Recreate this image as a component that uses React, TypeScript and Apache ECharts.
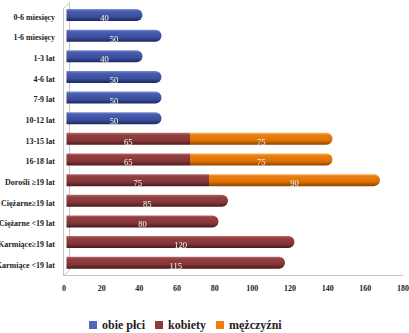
import React, { useEffect, useRef } from "react";
import * as echarts from "echarts";

const categories = [
  "0-6 miesięcy",
  "1-6 miesięcy",
  "1-3 lat",
  "4-6 lat",
  "7-9 lat",
  "10-12 lat",
  "13-15 lat",
  "16-18 lat",
  "Dorośli ≥19 lat",
  "Ciężarne≥19 lat",
  "Ciężarne <19 lat",
  "Karmiące≥19 lat",
  "Karmiące <19 lat",
];

const obiePlci = [40, 50, 40, 50, 50, 50, null, null, null, null, null, null, null];
const kobiety = [null, null, null, null, null, null, 65, 65, 75, 85, 80, 120, 115];
const mezczyzni = [null, null, null, null, null, null, 75, 75, 90, null, null, null, null];

const xTicks = { min: 0, max: 180, interval: 20 };

const SERIF = "'Liberation Serif', 'DejaVu Serif', serif";

const cyl = (stops: string[]) =>
  new echarts.graphic.LinearGradient(0, 0, 0, 1, [
    { offset: 0, color: stops[0] },
    { offset: 0.18, color: stops[1] },
    { offset: 0.65, color: stops[2] },
    { offset: 1, color: stops[3] },
  ]);

const BLUE = ["#7d8fd6", "#4a5eb0", "#3b4d9c", "#1d285e"];
const RED = ["#b86a6e", "#93403f", "#843538", "#4a1a1c"];
const ORANGE = ["#ffae55", "#ec7f12", "#dc7000", "#8a4300"];

const capRadius = [0, 6, 6, 0];

function buildData(values: (number | null)[], endsBar: (i: number) => boolean) {
  return values.map((v, i) =>
    v == null
      ? null
      : {
          value: v,
          itemStyle: { borderRadius: endsBar(i) ? capRadius : 0 },
        }
  );
}

const dataLabel = {
  show: true,
  position: "inside" as const,
  offset: [0, 3],
  color: "#f0f0f0",
  fontFamily: SERIF,
  fontSize: 8.5,
  textShadowColor: "rgba(0,0,0,0.45)",
  textShadowBlur: 1,
};

export default function App() {
  const ref = useRef<HTMLDivElement>(null);

  useEffect(() => {
    if (!ref.current) return;
    const chart = echarts.init(ref.current, undefined, { renderer: "svg" });

    const wall = "#c4c4c4";

    chart.setOption({
      animation: false,
      backgroundColor: "#ffffff",
      legend: {
        top: 319,
        left: 89,
        padding: 0,
        itemWidth: 8,
        itemHeight: 8,
        itemGap: 10,
        icon: "rect",
        textStyle: {
          fontFamily: SERIF,
          fontWeight: "bold",
          fontSize: 12,
          color: "#222",
        },
        data: [
          { name: "obie płci", itemStyle: { color: "#4e67bd" } },
          { name: "kobiety", itemStyle: { color: "#8e3b3e" } },
          { name: "mężczyźni", itemStyle: { color: "#f07f09" } },
        ],
      },
      grid: [
        { left: 64, right: 6, top: 6.7, bottom: 57.3, outerBoundsMode: "none", containLabel: false },
        { left: 66.5, right: 0.5, top: 4.7, bottom: 60, outerBoundsMode: "none", containLabel: false },
      ],
      xAxis: [
        {
          gridIndex: 0,
          type: "value",
          ...xTicks,
          axisLine: { show: true, lineStyle: { color: wall, width: 1 } },
          axisTick: { show: false },
          splitLine: { show: false },
          axisLabel: {
            margin: 9,
            showMaxLabel: true,
            overflow: "none",
            hideOverlap: false,
            fontFamily: SERIF,
            fontWeight: "bold",
            fontSize: 8,
            color: "#222",
          },
        },
        {
          gridIndex: 1,
          type: "value",
          ...xTicks,
          show: false,
        },
      ],
      yAxis: [
        {
          gridIndex: 0,
          type: "category",
          inverse: true,
          data: categories,
          axisLine: { show: false },
          axisTick: { show: false },
          axisLabel: {
            margin: 9,
            overflow: "none",
            fontFamily: SERIF,
            fontWeight: "bold",
            fontSize: 8,
            color: "#1a1a1a",
          },
        },
        {
          gridIndex: 1,
          type: "category",
          inverse: true,
          data: categories,
          show: false,
        },
      ],
      graphic: [
        {
          type: "polyline",
          silent: true,
          shape: {
            points: [
              [63.5, 276],
              [63.5, 8.5],
              [69.5, 2.5],
              [69.5, 270],
              [63.5, 276],
            ],
          },
          style: { stroke: wall, fill: "none", lineWidth: 1 },
        },
      ],
      series: [
        {
          name: "obie płci",
          type: "bar",
          stack: "total",
          xAxisIndex: 1,
          yAxisIndex: 1,
          barWidth: 12,
          itemStyle: { color: cyl(BLUE) },
          label: dataLabel,
          data: buildData(obiePlci, () => true),
        },
        {
          name: "kobiety",
          type: "bar",
          stack: "total",
          xAxisIndex: 1,
          yAxisIndex: 1,
          barWidth: 12,
          itemStyle: { color: cyl(RED) },
          label: dataLabel,
          data: buildData(kobiety, (i) => mezczyzni[i] == null),
        },
        {
          name: "mężczyźni",
          type: "bar",
          stack: "total",
          xAxisIndex: 1,
          yAxisIndex: 1,
          barWidth: 12,
          itemStyle: { color: cyl(ORANGE) },
          label: dataLabel,
          data: buildData(mezczyzni, () => true),
        },
      ],
    });

    return () => chart.dispose();
  }, []);

  return (
    <div
      ref={ref}
      style={{ position: "absolute", left: 0, top: 0, width: 409, height: 333 }}
    />
  );
}
